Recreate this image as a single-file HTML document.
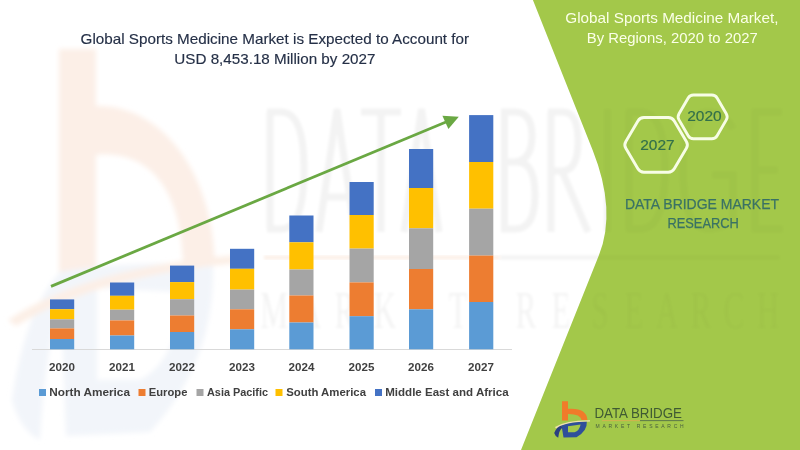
<!DOCTYPE html>
<html><head><meta charset="utf-8">
<style>
html,body{margin:0;padding:0;background:#fff;}
body{width:800px;height:450px;overflow:hidden;position:relative;font-family:"Liberation Sans",sans-serif;}
svg{position:absolute;left:0;top:0;display:block;}
</style></head>
<body>
<svg width="800" height="450" viewBox="0 0 800 450" font-family="Liberation Sans, sans-serif">
<defs><filter id="bl" x="-5%" y="-5%" width="110%" height="110%"><feGaussianBlur stdDeviation="1.5"/></filter><g id="wm-t" fill="#000">
<path fill="none" stroke="#000" stroke-width="7" d="M270,112 L270,229 M267,112 L281,112 Q304,112 304,169.0 Q304,229 281,229 L267,229 M319,232 L337.0,109 L355,232 M326,197 L348,197 M361,112 L401,112 M381,112 L381,232 M404,232 L421.5,109 L439,232 M411,197 L432,197 M504.5,112 L504.5,229 M501,112 L515,112 Q532,112 532,136 Q532,160 515,162 L504.5,162 M504.5,162 L517,162 Q535,162 535,195 Q535,229 515,229 L501,229 M551,112 L551,232 M548,112 L563,112 Q578,112 578,141 Q578,171 562,171 L551,171 M562,171 L588,232 M607.5,109 L607.5,232 M629,112 L629,229 M626,112 L640,112 Q665,112 665,169.0 Q665,229 640,229 L626,229 M733,129 Q725,112 708,112 Q683,112 683,169.0 Q683,229 708,229 Q724,229 733,219 L733,175 L712,175 M755,109 L755,232 M752,112 L782,112 M752,170 L778,170 M752,229 L783,229"/>
<rect x="500" y="255.5" width="280" height="4"/>
<g font-family="Liberation Serif, serif" font-size="52">
<text transform="translate(274,328) scale(0.6,1)" text-anchor="middle">M</text>
<text transform="translate(310,328) scale(0.6,1)" text-anchor="middle">A</text>
<text transform="translate(345,328) scale(0.6,1)" text-anchor="middle">R</text>
<text transform="translate(385,328) scale(0.6,1)" text-anchor="middle">K</text>
<text transform="translate(422,328) scale(0.6,1)" text-anchor="middle">E</text>
<text transform="translate(458,328) scale(0.6,1)" text-anchor="middle">T</text>
<text transform="translate(526,328) scale(0.6,1)" text-anchor="middle">R</text>
<text transform="translate(561,328) scale(0.6,1)" text-anchor="middle">E</text>
<text transform="translate(600,328) scale(0.6,1)" text-anchor="middle">S</text>
<text transform="translate(634,328) scale(0.6,1)" text-anchor="middle">E</text>
<text transform="translate(667,328) scale(0.6,1)" text-anchor="middle">A</text>
<text transform="translate(701,328) scale(0.6,1)" text-anchor="middle">R</text>
<text transform="translate(734,328) scale(0.6,1)" text-anchor="middle">C</text>
<text transform="translate(768,328) scale(0.6,1)" text-anchor="middle">H</text>
</g>
</g>
<filter id="bl2" x="-10%" y="-10%" width="120%" height="120%"><feGaussianBlur stdDeviation="2.5"/></filter>
<clipPath id="gclip"><path d="M532.9,0 L800,0 L800,450 L521,450 L599,255 Q616.7,210.6 592.6,150 Z"/></clipPath>
</defs>
<rect x="0" y="0" width="800" height="450" fill="#ffffff"/>
<!-- watermark logo -->
<g id="wm-b" filter="url(#bl2)">
<path d="M59,49 L96,49 L96,106 C160,104 212,170 215,262 L183,266 C182,190 150,150 96,155 L96,272 L59,272 Z" fill="#fcefe7"/>
<path fill-rule="evenodd" fill="#f2f5fa" d="M60,272 Q110,262 213,263 Q216,360 150,432 L66,436 Z M97,288 L97,380 L140,380 Q178,360 182,292 Z"/>
<path d="M12,400 Q25,310 60,272 L68,290 Q46,330 40,440 Q20,430 12,400 Z" fill="#f2f5fa"/>
<path d="M8,320 Q90,266 240,255 L240,263 Q100,275 16,326 Z" fill="#fcefe6"/>
</g>
<use href="#wm-t" opacity="0.05" filter="url(#bl)"/>
<rect x="264" y="255.5" width="236" height="4" fill="#fcefe7" filter="url(#bl)"/>
<!-- green panel -->
<path id="green" d="M532.9,0 L800,0 L800,450 L521,450 L599,255 Q616.7,210.6 592.6,150 Z" fill="#a3c84a"/>

<!-- watermark text -->
<g clip-path="url(#gclip)"><use href="#wm-t" opacity="0.022" filter="url(#bl)"/></g>
<!-- axis -->
<rect x="32" y="349" width="480" height="1" fill="#d9d9d9"/>

<!-- bars -->
<g id="bars">
<rect x="50" y="299.4" width="24.2" height="9.8" fill="#4472c4"/>
<rect x="50" y="309.2" width="24.2" height="10.1" fill="#ffc000"/>
<rect x="50" y="319.3" width="24.2" height="9.1" fill="#a5a5a5"/>
<rect x="50" y="328.4" width="24.2" height="10.6" fill="#ed7d31"/>
<rect x="50" y="339" width="24.2" height="10.3" fill="#5b9bd5"/>
<rect x="110" y="282.5" width="24.2" height="13.3" fill="#4472c4"/>
<rect x="110" y="295.8" width="24.2" height="13.9" fill="#ffc000"/>
<rect x="110" y="309.7" width="24.2" height="10.7" fill="#a5a5a5"/>
<rect x="110" y="320.4" width="24.2" height="15.1" fill="#ed7d31"/>
<rect x="110" y="335.5" width="24.2" height="13.8" fill="#5b9bd5"/>
<rect x="170" y="265.6" width="24.2" height="16.5" fill="#4472c4"/>
<rect x="170" y="282.1" width="24.2" height="17.1" fill="#ffc000"/>
<rect x="170" y="299.2" width="24.2" height="16.3" fill="#a5a5a5"/>
<rect x="170" y="315.5" width="24.2" height="16.5" fill="#ed7d31"/>
<rect x="170" y="332" width="24.2" height="17.3" fill="#5b9bd5"/>
<rect x="230" y="248.8" width="24.2" height="20.0" fill="#4472c4"/>
<rect x="230" y="268.8" width="24.2" height="20.8" fill="#ffc000"/>
<rect x="230" y="289.6" width="24.2" height="19.7" fill="#a5a5a5"/>
<rect x="230" y="309.3" width="24.2" height="20.0" fill="#ed7d31"/>
<rect x="230" y="329.3" width="24.2" height="20.0" fill="#5b9bd5"/>
<rect x="289.3" y="215.5" width="24.2" height="26.8" fill="#4472c4"/>
<rect x="289.3" y="242.3" width="24.2" height="27.2" fill="#ffc000"/>
<rect x="289.3" y="269.5" width="24.2" height="26.0" fill="#a5a5a5"/>
<rect x="289.3" y="295.5" width="24.2" height="27.0" fill="#ed7d31"/>
<rect x="289.3" y="322.5" width="24.2" height="26.8" fill="#5b9bd5"/>
<rect x="349.5" y="182" width="24.2" height="33" fill="#4472c4"/>
<rect x="349.5" y="215" width="24.2" height="33.6" fill="#ffc000"/>
<rect x="349.5" y="248.6" width="24.2" height="33.8" fill="#a5a5a5"/>
<rect x="349.5" y="282.4" width="24.2" height="33.8" fill="#ed7d31"/>
<rect x="349.5" y="316.2" width="24.2" height="33.1" fill="#5b9bd5"/>
<rect x="409" y="149" width="24.2" height="39" fill="#4472c4"/>
<rect x="409" y="188" width="24.2" height="40.3" fill="#ffc000"/>
<rect x="409" y="228.3" width="24.2" height="40.7" fill="#a5a5a5"/>
<rect x="409" y="269" width="24.2" height="40.3" fill="#ed7d31"/>
<rect x="409" y="309.3" width="24.2" height="40.0" fill="#5b9bd5"/>
<rect x="469.1" y="115.1" width="24.2" height="46.9" fill="#4472c4"/>
<rect x="469.1" y="162" width="24.2" height="46.7" fill="#ffc000"/>
<rect x="469.1" y="208.7" width="24.2" height="46.9" fill="#a5a5a5"/>
<rect x="469.1" y="255.6" width="24.2" height="46.4" fill="#ed7d31"/>
<rect x="469.1" y="302" width="24.2" height="47.3" fill="#5b9bd5"/>
</g>

<!-- arrow -->
<line x1="51" y1="286.4" x2="446" y2="122" stroke="#6aa843" stroke-width="2.8"/>
<polygon points="458.8,116.8 442.4,115.7 448.4,129" fill="#6aa843"/>

<!-- title -->
<g fill="#253047" stroke="#253047" stroke-width="0.15" font-size="14.5">
<text x="80.6" y="43.75" textLength="388.5" lengthAdjust="spacingAndGlyphs">Global Sports Medicine Market is Expected to Account for</text>
<text x="174.3" y="63.75" textLength="201.2" lengthAdjust="spacingAndGlyphs">USD 8,453.18 Million by 2027</text>
</g>

<!-- year labels -->
<g fill="#404040" font-size="11.6" font-weight="bold" text-anchor="middle">
<text x="62" y="371">2020</text>
<text x="122" y="371">2021</text>
<text x="182" y="371">2022</text>
<text x="242" y="371">2023</text>
<text x="301.5" y="371">2024</text>
<text x="361.5" y="371">2025</text>
<text x="421" y="371">2026</text>
<text x="481" y="371">2027</text>
</g>

<!-- legend -->
<g font-size="11.6" font-weight="bold" fill="#404040">
<rect x="39" y="389" width="7" height="7" fill="#5b9bd5"/>
<text x="49.2" y="396" textLength="80.8" lengthAdjust="spacingAndGlyphs">North America</text>
<rect x="138.5" y="389" width="7" height="7" fill="#ed7d31"/>
<text x="148.8" y="396" textLength="38.6" lengthAdjust="spacingAndGlyphs">Europe</text>
<rect x="196.5" y="389" width="7" height="7" fill="#a5a5a5"/>
<text x="207" y="396" textLength="61" lengthAdjust="spacingAndGlyphs">Asia Pacific</text>
<rect x="275.5" y="389" width="7" height="7" fill="#ffc000"/>
<text x="286.2" y="396" textLength="79.8" lengthAdjust="spacingAndGlyphs">South America</text>
<rect x="375" y="389" width="7" height="7" fill="#4472c4"/>
<text x="385.2" y="396" textLength="123.5" lengthAdjust="spacingAndGlyphs">Middle East and Africa</text>
</g>

<!-- right panel titles -->
<g fill="#fbffe8" font-size="14.5">
<text x="565.3" y="23" textLength="213.2" lengthAdjust="spacingAndGlyphs">Global Sports Medicine Market,</text>
<text x="586.8" y="43" textLength="171" lengthAdjust="spacingAndGlyphs">By Regions, 2020 to 2027</text>
</g>

<!-- hexagons -->
<g fill="none" stroke="#f7fde6" stroke-width="2.9" stroke-linejoin="round">
<path d="M625.83,148.30 Q623.80,144.85 625.83,141.40 L637.92,120.90 Q639.95,117.45 643.95,117.45 L668.25,117.45 Q672.25,117.45 674.28,120.90 L686.37,141.40 Q688.40,144.85 686.37,148.30 L674.28,168.80 Q672.25,172.25 668.25,172.25 L643.95,172.25 Q639.95,172.25 637.92,168.80 Z"/>
<path d="M679.01,119.88 Q677.25,116.85 679.01,113.82 L688.19,97.98 Q689.95,94.95 693.45,94.95 L711.85,94.95 Q715.35,94.95 717.11,97.98 L726.29,113.82 Q728.05,116.85 726.29,119.88 L717.11,135.72 Q715.35,138.75 711.85,138.75 L693.45,138.75 Q689.95,138.75 688.19,135.72 Z"/>
</g>
<g fill="#33704a" stroke="#33704a" stroke-width="0.2" font-size="14.3">
<text x="640.2" y="150.3" textLength="34.4" lengthAdjust="spacingAndGlyphs">2027</text>
<text x="687.2" y="121.4" textLength="34.4" lengthAdjust="spacingAndGlyphs">2020</text>
</g>
<g fill="#3a7264" stroke="#3a7264" stroke-width="0.25" font-size="14.5">
<text x="625" y="208.6" textLength="154" lengthAdjust="spacingAndGlyphs">DATA BRIDGE MARKET</text>
<text x="667.4" y="228.3" textLength="71.4" lengthAdjust="spacingAndGlyphs">RESEARCH</text>
</g>

<!-- bottom logo -->
<g id="logo">
<path d="M562,401.3 L568,401.3 L568,408.8 Q586.5,407.5 587.5,420 L581.5,420 Q580.5,413.8 568,414 L568,420.5 L562,420.5 Z" fill="#f07b2a"/>
<path d="M555,427 Q566,420 590,420.2 L590,421.6 Q567,421.8 556,428.5 Z" fill="#efe0b0"/>
<path fill-rule="evenodd" fill="#2f4f9a" d="M561.5,425.6 Q570,422 586.8,421.8 Q587.5,431 576.5,437.3 L563.5,437.6 Z M568,426.2 L580.6,424.6 Q579.3,431.2 574.5,432.2 L568,432.2 Z"/>
<path fill="#2a3f80" d="M554.2,433 Q556.5,427 561.5,425.6 L562.2,427.8 Q559,430.5 558.2,437.8 Q555,436 554.2,433 Z"/>
<text x="594.4" y="418.1" font-size="14.4" fill="#3f5a33" textLength="87.6" lengthAdjust="spacingAndGlyphs">DATA BRIDGE</text>
<rect x="602" y="420.2" width="38" height="0.9" fill="#d8b050"/>
<rect x="640" y="420.2" width="43.5" height="0.9" fill="#55704a"/>
<text x="595.6" y="428" font-size="5" fill="#4a6040" textLength="88" lengthAdjust="spacing">MARKET  RESEARCH</text>
</g>
</svg>
</body></html>
